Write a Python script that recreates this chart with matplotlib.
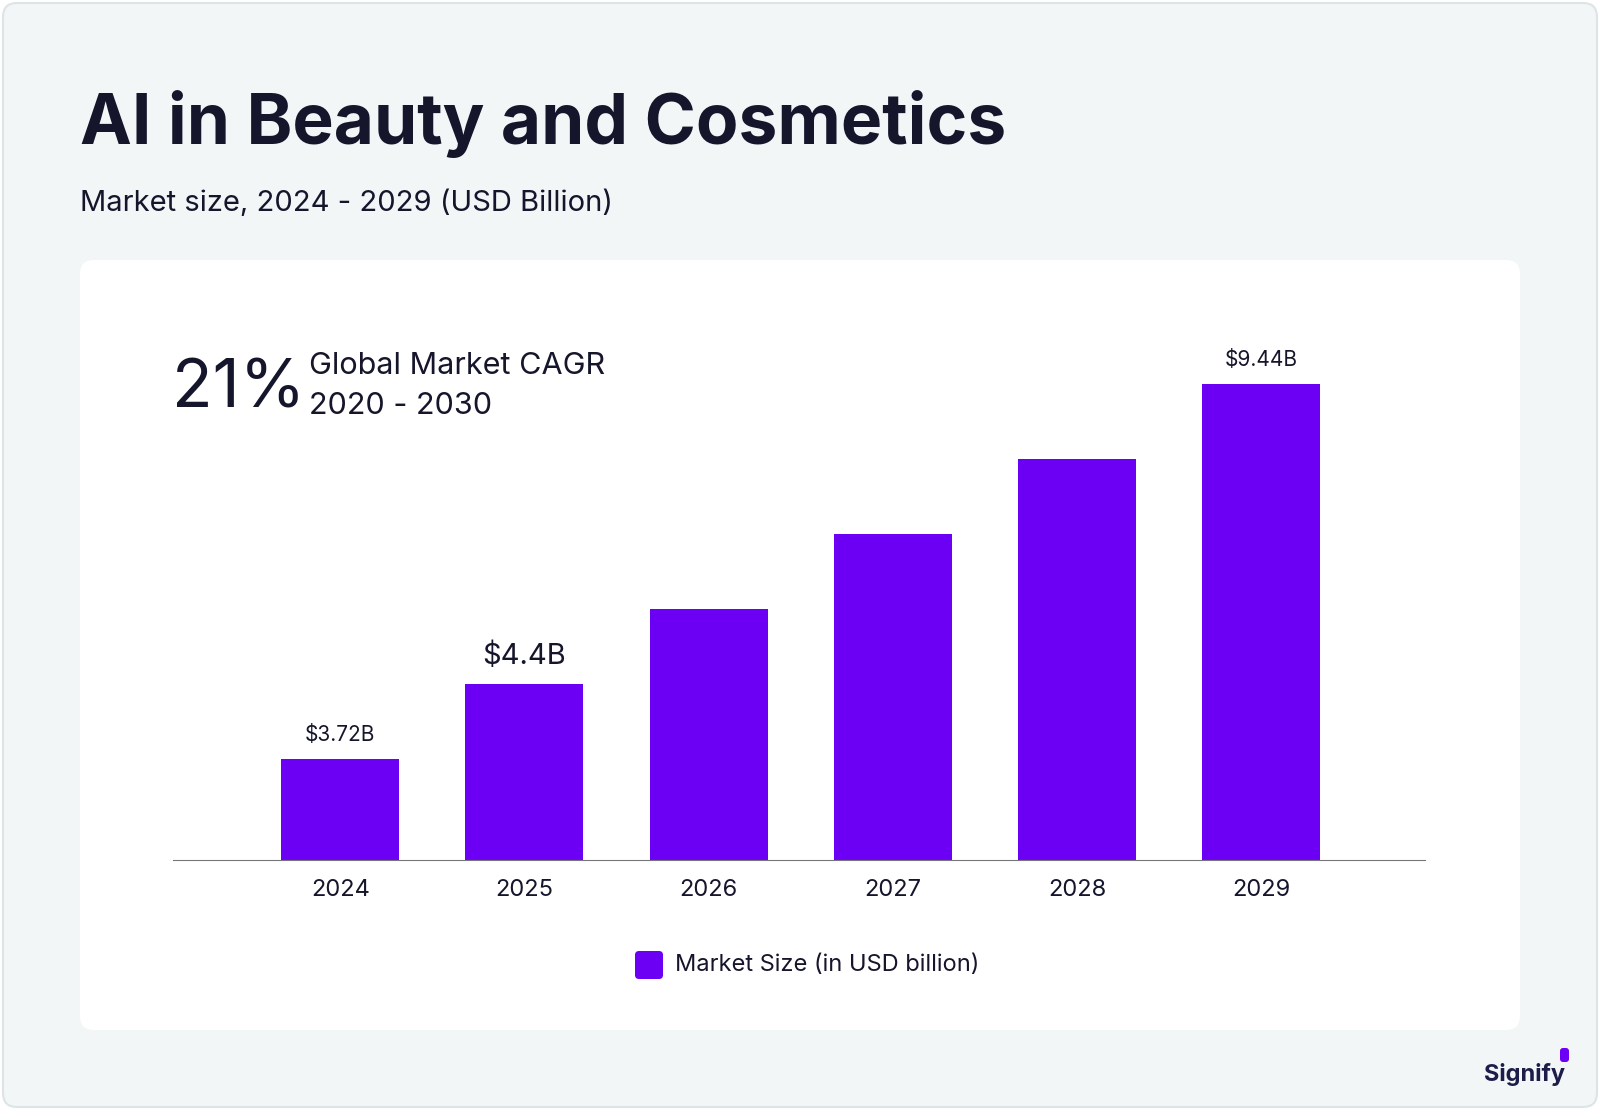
import matplotlib
matplotlib.use("Agg")
import matplotlib.pyplot as plt
from matplotlib.patches import FancyBboxPatch

years = ["2024", "2025", "2026", "2027", "2028", "2029"]
values = [3.72, 4.86, 6.01, 7.15, 8.30, 9.44]
labels = {0: ("$3.72B", 15), 1: ("$4.4B", 21), 5: ("$9.44B", 15)}

W, H = 1600, 1110
fig = plt.figure(figsize=(16, 11.1), dpi=100)
fig.patch.set_facecolor("white")
bg = fig.add_axes([0, 0, 1, 1]); bg.set_xlim(0, W); bg.set_ylim(H, 0); bg.axis("off")
bg.add_patch(FancyBboxPatch((3, 3), W - 6, H - 6, boxstyle="round,pad=0,rounding_size=14",
                            fc="#f3f6f7", ec="#dde3e6", lw=1.5))
bg.add_patch(FancyBboxPatch((80, 260), 1440, 770, boxstyle="round,pad=0,rounding_size=14",
                            fc="white", ec="none"))
dark = "#15152b"
bg.text(80, 124, "AI in Beauty and Cosmetics", fontsize=50, fontweight="bold", color=dark,
        family="Inter", va="center")
bg.text(80, 203, "Market size, 2024 - 2029 (USD Billion)", fontsize=21, color=dark,
        family="Inter", va="center")
bg.text(172, 390, "21%", fontsize=48, color=dark, family="Inter", va="center")
bg.text(309, 366, "Global Market CAGR", fontsize=22, color=dark, family="Inter", va="center")
bg.text(309, 406, "2020 - 2030", fontsize=22, color=dark, family="Inter", va="center")
bg.text(1565, 1074, "Signify", fontsize=17, fontweight="bold", color="#1d1d4a",
        family="Inter", ha="right", va="center")
bg.add_patch(FancyBboxPatch((1560, 1048), 9, 14, boxstyle="round,pad=0,rounding_size=3",
                            fc="#6b00f4", ec="none"))
bg.add_patch(FancyBboxPatch((635, 951), 28, 28, boxstyle="round,pad=0,rounding_size=4",
                            fc="#6b00f4", ec="none"))
bg.text(675, 965, "Market Size (in USD billion)", fontsize=17, color=dark, family="Inter", va="center")

left, right, bottom, top = 173, 1425, 860, 340
ax = fig.add_axes([left / W, 1 - bottom / H, (right - left) / W, (bottom - top) / H])
ax.set_facecolor("none")
ymin = 2.18
x = range(len(years))
bars = ax.bar(x, [v - ymin for v in values], bottom=ymin, width=0.64, color="#6b00f4")
ax.set_ylim(ymin, ymin + (values[-1] - ymin) * (bottom - top) / 476)
ax.set_xlim(-0.908, 5.89)
for i, (t, fs) in labels.items():
    ax.text(i, values[i] + 0.22, t, ha="center", va="bottom", fontsize=fs, color=dark, family="Inter")
ax.set_xticks(list(x)); ax.set_xticklabels(years, fontsize=17, color=dark, family="Inter")
ax.tick_params(length=0, pad=14)
ax.set_yticks([])
for s in ["top", "right", "left"]:
    ax.spines[s].set_visible(False)
ax.spines["bottom"].set_color("#777777")
fig.savefig("out.png", dpi=100)
